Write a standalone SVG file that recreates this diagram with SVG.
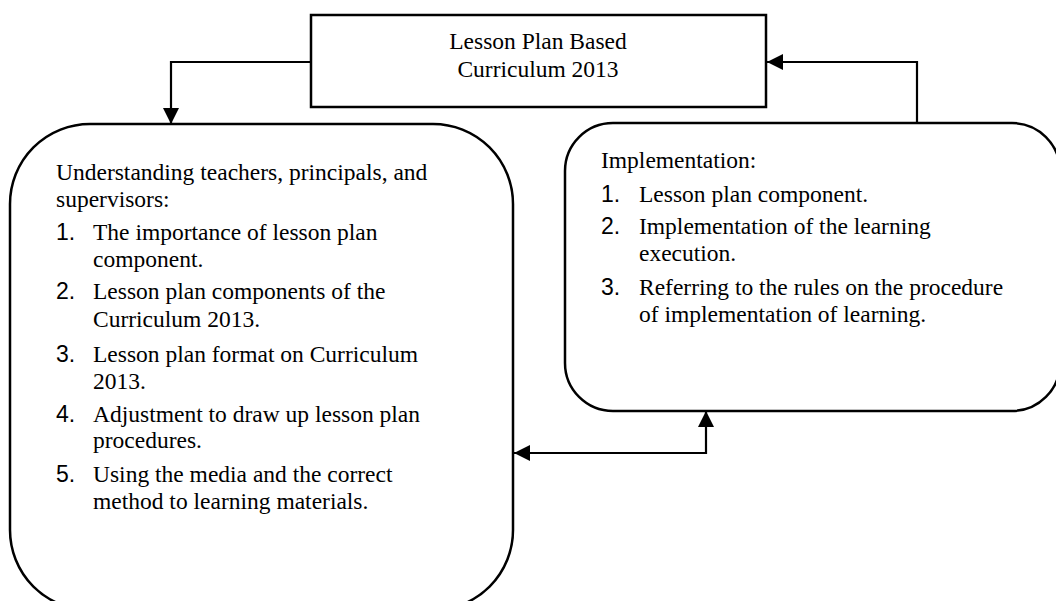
<svg xmlns="http://www.w3.org/2000/svg" width="1056" height="601" viewBox="0 0 1056 601">
<style>
.box{fill:#fff;stroke:#000;stroke-width:2.5}
.t{font-family:"Liberation Serif","Times New Roman",serif;font-size:23.5px;fill:#000}
.n{font-family:"Liberation Sans Narrow","Liberation Sans",Arial,sans-serif;font-size:23px;fill:#000}
.c{fill:none;stroke:#000;stroke-width:2.2}
</style>
<defs>
<marker id="ah" viewBox="0 0 16 16" refX="16" refY="8" markerWidth="16" markerHeight="16" markerUnits="userSpaceOnUse" orient="auto-start-reverse">
<path d="M0,0 L16,8 L0,16 Z" fill="#000"/>
</marker>
</defs>
<rect width="1056" height="601" fill="#fff"/>
<g id="connectors">
<path class="c" d="M311,62 H171 V124" marker-end="url(#ah)"/>
<path class="c" d="M917,123 V62 H767" marker-end="url(#ah)"/>
<path class="c" d="M514,453 H706 V411" marker-start="url(#ah)" marker-end="url(#ah)"/>
</g>
<g id="node-top">
<rect class="box" x="311" y="15" width="455" height="92"/>
<text class="t" x="538" y="49" text-anchor="middle">Lesson Plan Based</text>
<text class="t" x="538" y="77" text-anchor="middle">Curriculum 2013</text>
</g>
<g id="node-left">
<rect class="box" x="10" y="124" width="503" height="486" rx="80" ry="80"/>
<text class="t" x="56" y="180">Understanding teachers, principals, and</text>
<text class="t" x="56" y="207">supervisors:</text>
<text class="n" x="56" y="240">1.</text>
<text class="t" x="93" y="240">The importance of lesson plan</text>
<text class="t" x="93" y="267">component.</text>
<text class="n" x="56" y="299">2.</text>
<text class="t" x="93" y="299">Lesson plan components of the</text>
<text class="t" x="93" y="327">Curriculum 2013.</text>
<text class="n" x="56" y="362">3.</text>
<text class="t" x="93" y="362">Lesson plan format on Curriculum</text>
<text class="t" x="93" y="389">2013.</text>
<text class="n" x="56" y="422">4.</text>
<text class="t" x="93" y="422">Adjustment to draw up lesson plan</text>
<text class="t" x="93" y="448">procedures.</text>
<text class="n" x="56" y="482">5.</text>
<text class="t" x="93" y="482">Using the media and the correct</text>
<text class="t" x="93" y="509">method to learning materials.</text>
</g>
<g id="node-right">
<rect class="box" x="565" y="123" width="495" height="288" rx="48" ry="48"/>
<text class="t" x="601" y="168">Implementation:</text>
<text class="n" x="601" y="202">1.</text>
<text class="t" x="639" y="202">Lesson plan component.</text>
<text class="n" x="601" y="234">2.</text>
<text class="t" x="639" y="234">Implementation of the learning</text>
<text class="t" x="639" y="261">execution.</text>
<text class="n" x="601" y="295">3.</text>
<text class="t" x="639" y="295">Referring to the rules on the procedure</text>
<text class="t" x="639" y="322">of implementation of learning.</text>
</g>
</svg>
